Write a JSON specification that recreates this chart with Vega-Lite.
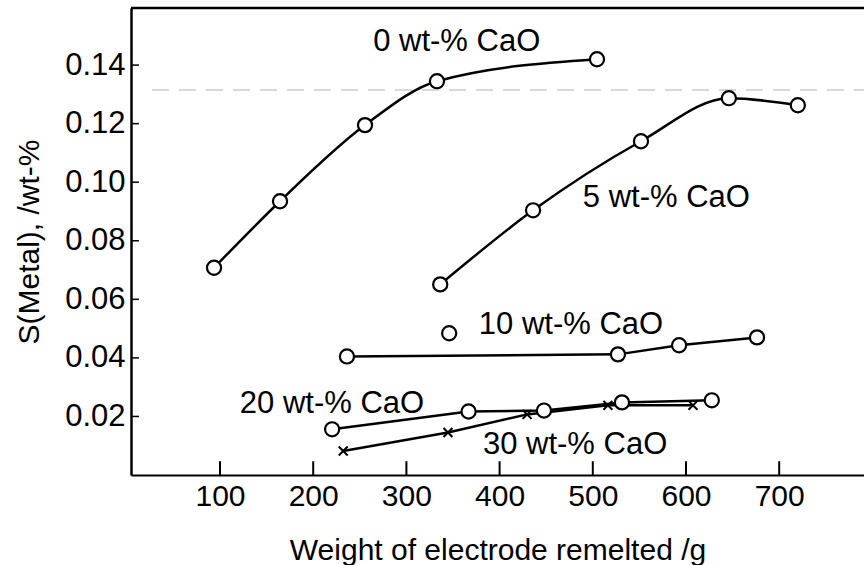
{
  "$schema": "https://vega.github.io/schema/vega-lite/v6.json",
  "width": 733,
  "height": 467,
  "autosize": "none",
  "padding": {"left": 131, "top": 8, "right": 0, "bottom": 90},
  "background": "white",
  "config": {"view": {"stroke": null}, "font": "Liberation Sans"},
  "datasets": {
    "pts": [
      {"series": "0", "x": 93.6, "y": 0.0708, "marker": "o", "line": true},
      {"series": "0", "x": 164.4, "y": 0.0935, "marker": "o", "line": true},
      {"series": "0", "x": 255.6, "y": 0.1195, "marker": "o", "line": true},
      {"series": "0", "x": 332.8, "y": 0.1345, "marker": "o", "line": true},
      {"series": "0", "x": 504.5, "y": 0.142, "marker": "o", "line": true},
      {"series": "5", "x": 336.3, "y": 0.0651, "marker": "o", "line": true},
      {"series": "5", "x": 435.9, "y": 0.0904, "marker": "o", "line": true},
      {"series": "5", "x": 551.7, "y": 0.114, "marker": "o", "line": true},
      {"series": "5", "x": 646, "y": 0.1287, "marker": "o", "line": true},
      {"series": "5", "x": 720, "y": 0.1263, "marker": "o", "line": true},
      {"series": "10", "x": 236.2, "y": 0.0405, "marker": "o", "line": true},
      {"series": "10", "x": 527, "y": 0.0412, "marker": "o", "line": true},
      {"series": "10", "x": 592.6, "y": 0.0443, "marker": "o", "line": true},
      {"series": "10", "x": 676.2, "y": 0.047, "marker": "o", "line": true},
      {"series": "10b", "x": 345.9, "y": 0.0484, "marker": "o", "line": false},
      {"series": "20", "x": 220.3, "y": 0.0156, "marker": "o", "line": true},
      {"series": "20", "x": 366.7, "y": 0.0217, "marker": "o", "line": true},
      {"series": "20", "x": 447.6, "y": 0.022, "marker": "o", "line": true},
      {"series": "20", "x": 531.3, "y": 0.0248, "marker": "o", "line": true},
      {"series": "20", "x": 627.7, "y": 0.0255, "marker": "o", "line": true},
      {"series": "30", "x": 232.2, "y": 0.0082, "marker": "x", "line": true},
      {"series": "30", "x": 344.6, "y": 0.0145, "marker": "x", "line": true},
      {"series": "30", "x": 429.5, "y": 0.0207, "marker": "x", "line": true},
      {"series": "30", "x": 516.2, "y": 0.0238, "marker": "x", "line": true},
      {"series": "30", "x": 607.5, "y": 0.0238, "marker": "x", "line": true}
    ],
    "labels": [
      {"text": "0 wt-% CaO", "x": 354, "y": 0.1479},
      {"text": "5 wt-% CaO", "x": 579, "y": 0.0946},
      {"text": "10 wt-% CaO", "x": 476.6, "y": 0.0514},
      {"text": "20 wt-% CaO", "x": 220.2, "y": 0.0241},
      {"text": "30 wt-% CaO", "x": 481, "y": 0.0104}
    ],
    "xticks": [{"v": 100}, {"v": 200}, {"v": 300}, {"v": 400}, {"v": 500}, {"v": 600}, {"v": 700}],
    "yticks": [{"v": 0.02}, {"v": 0.04}, {"v": 0.06}, {"v": 0.08}, {"v": 0.1}, {"v": 0.12}, {"v": 0.14}],
    "refs": [
      {"kind": "dash", "x": 27, "x2": 791, "y": 0.1315},
      {"kind": "top", "x": 4.5, "x2": 791, "y": 0.1595}
    ]
  },
  "layer": [
    {
      "data": {"name": "refs"},
      "transform": [{"filter": "datum.kind == 'dash'"}],
      "mark": {"type": "rule", "color": "#d8d8d8", "strokeWidth": 2, "strokeDash": [17, 10]},
      "encoding": {
        "x": {"field": "x", "type": "quantitative"},
        "x2": {"field": "x2"},
        "y": {"field": "y", "type": "quantitative"}
      }
    },
    {
      "data": {"name": "refs"},
      "transform": [{"filter": "datum.kind == 'top'"}],
      "mark": {"type": "rule", "color": "black", "strokeWidth": 2.5},
      "encoding": {
        "x": {"field": "x", "type": "quantitative"},
        "x2": {"field": "x2"},
        "y": {"field": "y", "type": "quantitative"}
      }
    },
    {
      "data": {"name": "xticks"},
      "mark": {"type": "rule", "color": "black", "strokeWidth": 2},
      "encoding": {
        "x": {"field": "v", "type": "quantitative"},
        "y": {"datum": 0},
        "y2": {"datum": 0.0047}
      }
    },
    {
      "data": {"name": "yticks"},
      "mark": {"type": "rule", "color": "black", "strokeWidth": 1.5},
      "encoding": {
        "y": {"field": "v", "type": "quantitative"},
        "x": {"datum": 4.5},
        "x2": {"datum": 13}
      }
    },
    {
      "data": {"name": "pts"},
      "transform": [{"filter": "datum.line && (datum.series == '0' || datum.series == '5')"}],
      "mark": {"type": "line", "interpolate": "monotone", "color": "black", "strokeWidth": 2.5},
      "encoding": {
        "x": {
          "field": "x", "type": "quantitative",
          "scale": {"domain": [4.5, 791], "nice": false, "zero": false},
          "axis": {
            "values": [100, 200, 300, 400, 500, 600, 700],
            "grid": false,
            "domainColor": "black", "domainWidth": 2,
            "ticks": false,
            "labelFontSize": 30, "labelColor": "black", "labelPadding": 6,
            "labelFont": "Liberation Sans",
            "title": "Weight of electrode remelted /g",
            "titleFontSize": 30, "titleFontWeight": "normal", "titleColor": "black",
            "titleFont": "Liberation Sans", "titlePadding": 24
          }
        },
        "y": {
          "field": "y", "type": "quantitative",
          "scale": {"domain": [0, 0.1595], "nice": false, "zero": false},
          "axis": {
            "values": [0.02, 0.04, 0.06, 0.08, 0.1, 0.12, 0.14],
            "format": ".2f",
            "grid": false,
            "domainColor": "black", "domainWidth": 2.5,
            "ticks": false,
            "labelFontSize": 31, "labelColor": "black", "labelPadding": 6,
            "labelFont": "Liberation Sans",
            "title": "S(Metal), /wt-%",
            "titleFontSize": 30, "titleFontWeight": "normal", "titleColor": "black",
            "titleFont": "Liberation Sans", "titlePadding": 20
          }
        },
        "detail": {"field": "series"}
      }
    },
    {
      "data": {"name": "pts"},
      "transform": [{"filter": "datum.line && datum.series != '0' && datum.series != '5'"}],
      "mark": {"type": "line", "interpolate": "linear", "color": "black", "strokeWidth": 2.5},
      "encoding": {
        "x": {"field": "x", "type": "quantitative"},
        "y": {"field": "y", "type": "quantitative"},
        "detail": {"field": "series"}
      }
    },
    {
      "data": {"name": "pts"},
      "transform": [{"filter": "datum.marker == 'o'"}],
      "mark": {"type": "point", "shape": "circle", "filled": true, "fill": "white", "stroke": "black", "strokeWidth": 2.2, "size": 200, "opacity": 1},
      "encoding": {
        "x": {"field": "x", "type": "quantitative"},
        "y": {"field": "y", "type": "quantitative"}
      }
    },
    {
      "data": {"name": "pts"},
      "transform": [{"filter": "datum.marker == 'x'"}],
      "mark": {"type": "point", "shape": "M-1,-1L1,1M1,-1L-1,1", "filled": false, "stroke": "black", "strokeWidth": 2, "size": 80, "opacity": 1},
      "encoding": {
        "x": {"field": "x", "type": "quantitative"},
        "y": {"field": "y", "type": "quantitative"}
      }
    },
    {
      "data": {"name": "labels"},
      "mark": {"type": "text", "fontSize": 31, "font": "Liberation Sans", "color": "black", "align": "center", "baseline": "middle"},
      "encoding": {
        "x": {"field": "x", "type": "quantitative"},
        "y": {"field": "y", "type": "quantitative"},
        "text": {"field": "text"}
      }
    }
  ]
}
